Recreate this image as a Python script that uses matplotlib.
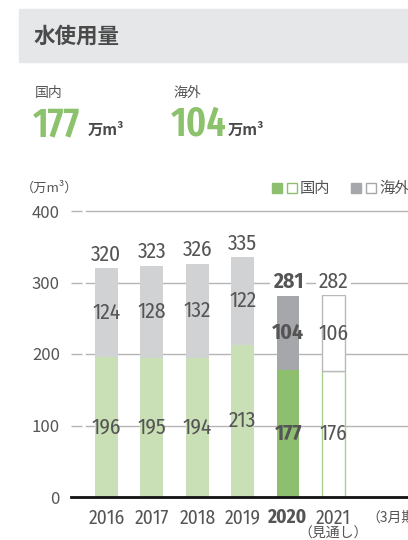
import matplotlib
matplotlib.use("Agg")
import matplotlib.pyplot as plt
from matplotlib.patches import Rectangle

plt.rcParams['font.family'] = ['Noto Sans CJK JP', 'DejaVu Sans']

years = ["2016", "2017", "2018", "2019", "2020", "2021"]
domestic = [196, 195, 194, 213, 177, 176]
overseas = [124, 128, 132, 122, 104, 106]
totals = [320, 323, 326, 335, 281, 282]
yticks = [0, 100, 200, 300, 400]

W, H = 408, 540
fig = plt.figure(figsize=(W / 100, H / 100), dpi=100)

def fx(x):
    return x / W

def fy(y):
    return 1 - y / H

NARROW = ['Fira Sans Condensed', 'Liberation Sans Narrow', 'DejaVu Sans']
XNARROW = ['Fira Sans Extra Condensed', 'Fira Sans Condensed', 'Liberation Sans Narrow', 'DejaVu Sans']
TXT = '#555555'
GREEN_L = '#c9dfb6'
GREEN_D = '#8dbf6f'
GRAY_L = '#d1d2d4'
GRAY_D = '#a6a7aa'
BIG_GREEN = '#8cc26c'

# header band
fig.patches.append(Rectangle((fx(19), fy(62)), fx(W) - fx(19), fy(9) - fy(62),
                             transform=fig.transFigure, color='#e6e7e8', zorder=0))
fig.text(fx(34), fy(36), "水使用量", fontsize=15.5, fontweight='bold', color='#4a4a4a',
         va='center', ha='left')

# summary figures
fig.text(fx(35), fy(93), "国内", fontsize=10, color=TXT, va='center')
fig.text(fx(173), fy(93), "海外", fontsize=10, color=TXT, va='center')
fig.text(fx(33), fy(136), "177", fontsize=29.5, fontweight='semibold', color=BIG_GREEN,
         family=XNARROW, va='baseline')
fig.text(fx(88), fy(135), "万m³", fontsize=11, fontweight='bold', color='#4a4a4a', va='baseline')
fig.text(fx(171), fy(136), "104", fontsize=29.5, fontweight='semibold', color=BIG_GREEN,
         family=XNARROW, va='baseline')
fig.text(fx(228), fy(135), "万m³", fontsize=11, fontweight='bold', color='#4a4a4a', va='baseline')

# unit and legend
fig.text(fx(21), fy(188), "（万m³）", fontsize=9.5, color=TXT, va='center', ha='left')
def sq(x, y, fc, ec):
    fig.patches.append(Rectangle((fx(x), fy(y + 10)), fx(10), 10 / H, transform=fig.transFigure,
                                 facecolor=fc, edgecolor=ec, linewidth=1))
sq(272, 183, GREEN_D, GREEN_D)
sq(287, 183, 'white', GREEN_D)
fig.text(fx(300), fy(188), "国内", fontsize=11, color=TXT, va='center')
sq(351, 183, GRAY_D, GRAY_D)
sq(366, 183, 'white', GRAY_D)
fig.text(fx(379), fy(188), "海外", fontsize=11, color=TXT, va='center')

# axes
ax = fig.add_axes([fx(71), fy(497), fx(W) - fx(71), (497 - 211) / H])
ax.set_xlim(-0.78, 6.64)
ax.set_ylim(0, 400)
for s in ['top', 'right', 'left']:
    ax.spines[s].set_visible(False)
ax.spines['bottom'].set_color('#111111')
ax.spines['bottom'].set_linewidth(2)
ax.spines['bottom'].set_zorder(5)

px_per_unit = 45.4
grid_start = -0.78 + (86 - 71) / px_per_unit
for v in yticks[1:]:
    ax.plot([grid_start, 6.64], [v, v], color='#b5b5b5', lw=1, zorder=1, clip_on=False)
ax.set_yticks(yticks)
ax.set_yticklabels([str(v) for v in yticks], fontsize=12, color=TXT)
ax.tick_params(axis='y', direction='in', length=8, width=1, color='#b5b5b5', pad=8)
ax.set_xticks([])

x = list(range(len(years)))
bw = 0.5
for i in x:
    if i == 5:
        ax.bar(i, domestic[i], bw, color='white', edgecolor='#a8d08d', lw=1, zorder=3)
        ax.bar(i, overseas[i], bw, bottom=domestic[i], color='white', edgecolor='#b8b8b8', lw=1, zorder=3)
    elif i == 4:
        ax.bar(i, domestic[i], bw, color=GREEN_D, zorder=3)
        ax.bar(i, overseas[i], bw, bottom=domestic[i], color=GRAY_D, zorder=3)
    else:
        ax.bar(i, domestic[i], bw, color=GREEN_L, zorder=3)
        ax.bar(i, overseas[i], bw, bottom=domestic[i], color=GRAY_L, zorder=3)

LS = 15.5
for i in x:
    fw = 'bold' if i == 4 else 'normal'
    ax.text(i, domestic[i] / 2, str(domestic[i]), ha='center', va='center', fontsize=LS,
            color=TXT, family=NARROW, fontweight=fw, zorder=4)
    ax.text(i, domestic[i] + overseas[i] / 2, str(overseas[i]), ha='center', va='center',
            fontsize=LS, color=TXT, family=NARROW, fontweight=fw, zorder=4)
    ax.annotate(str(totals[i]), (i, totals[i]), xytext=(0, 10), textcoords='offset points',
                ha='center', va='center', fontsize=LS, color=TXT, family=NARROW,
                fontweight=fw, zorder=4,
                bbox=dict(boxstyle='square,pad=0.12', fc='white', ec='none'))
    ax.annotate(years[i], (i, 0), xytext=(0, -15), textcoords='offset points',
                ha='center', va='center', fontsize=14, color=TXT, family=NARROW,
                fontweight=fw, annotation_clip=False)

ax.annotate("（見通し）", (5, 0), xytext=(0, -26.5), textcoords='offset points',
            ha='center', va='center', fontsize=10, color=TXT, annotation_clip=False)
ax.annotate("（3月期）", (5.72, 0), xytext=(0, -15), textcoords='offset points',
            ha='left', va='center', fontsize=10, color=TXT, annotation_clip=False)

fig.savefig("out.png", dpi=100)
